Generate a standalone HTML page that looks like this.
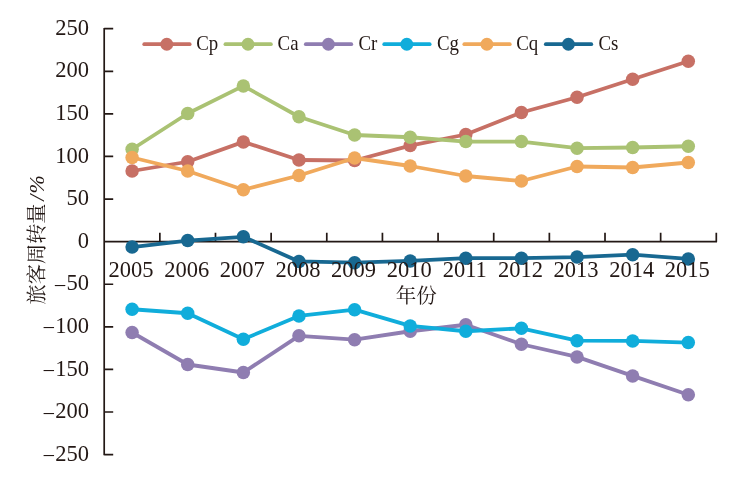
<!DOCTYPE html>
<html lang="zh"><head><meta charset="utf-8"><title>旅客周转量</title>
<style>html,body{margin:0;padding:0;background:#fff}svg{display:block}text{font-family:"Liberation Serif","Noto Serif CJK SC",serif;fill:#231815}</style></head>
<body>
<svg width="740" height="481" viewBox="0 0 740 481">
<rect width="740" height="481" fill="#fff"/>
<path d="M104.20 27.95V455.35M104.20 454.60H113.20M104.20 412.01H113.20M104.20 369.42H113.20M104.20 326.83H113.20M104.20 284.24H113.20M104.20 199.06H113.20M104.20 156.47H113.20M104.20 113.88H113.20M104.20 71.29H113.20M104.20 28.70H113.20M104.20 241.65H717.05M159.85 241.65V232.65M215.49 241.65V232.65M271.14 241.65V232.65M326.78 241.65V232.65M382.43 241.65V232.65M438.07 241.65V232.65M493.72 241.65V232.65M549.36 241.65V232.65M605.01 241.65V232.65M660.65 241.65V232.65M716.30 241.65V232.65" fill="none" stroke="#231815" stroke-width="1.7"/>
<g font-size="22.5" text-anchor="end">
<text x="88.9" y="460.80"><tspan dy="2.4">−</tspan><tspan dy="-2.4">250</tspan></text>
<text x="88.9" y="418.21"><tspan dy="2.4">−</tspan><tspan dy="-2.4">200</tspan></text>
<text x="88.9" y="375.62"><tspan dy="2.4">−</tspan><tspan dy="-2.4">150</tspan></text>
<text x="88.9" y="333.03"><tspan dy="2.4">−</tspan><tspan dy="-2.4">100</tspan></text>
<text x="88.9" y="290.44"><tspan dy="2.4">−</tspan><tspan dy="-2.4">50</tspan></text>
<text x="88.9" y="247.85">0</text>
<text x="88.9" y="205.26">50</text>
<text x="88.9" y="162.67">100</text>
<text x="88.9" y="120.08">150</text>
<text x="88.9" y="77.49">200</text>
<text x="88.9" y="34.90">250</text>
</g>
<g fill="#c77065" stroke="none"><polyline points="132.10,171.00 187.70,161.75 243.35,141.90 298.95,160.00 354.60,160.50 410.20,145.60 465.80,134.50 521.40,112.50 577.05,97.25 632.65,79.25 688.30,61.25" fill="none" stroke="#c77065" stroke-width="3.8" stroke-linejoin="round"/>
<circle cx="132.10" cy="171.00" r="6.75"/><circle cx="187.70" cy="161.75" r="6.75"/><circle cx="243.35" cy="141.90" r="6.75"/><circle cx="298.95" cy="160.00" r="6.75"/><circle cx="354.60" cy="160.50" r="6.75"/><circle cx="410.20" cy="145.60" r="6.75"/><circle cx="465.80" cy="134.50" r="6.75"/><circle cx="521.40" cy="112.50" r="6.75"/><circle cx="577.05" cy="97.25" r="6.75"/><circle cx="632.65" cy="79.25" r="6.75"/><circle cx="688.30" cy="61.25" r="6.75"/>
</g>
<g fill="#aac273" stroke="none"><polyline points="132.10,149.25 187.70,113.50 243.35,85.90 298.95,116.75 354.60,135.00 410.20,137.25 465.80,141.60 521.40,141.60 577.05,148.20 632.65,147.50 688.30,146.25" fill="none" stroke="#aac273" stroke-width="3.8" stroke-linejoin="round"/>
<circle cx="132.10" cy="149.25" r="6.75"/><circle cx="187.70" cy="113.50" r="6.75"/><circle cx="243.35" cy="85.90" r="6.75"/><circle cx="298.95" cy="116.75" r="6.75"/><circle cx="354.60" cy="135.00" r="6.75"/><circle cx="410.20" cy="137.25" r="6.75"/><circle cx="465.80" cy="141.60" r="6.75"/><circle cx="521.40" cy="141.60" r="6.75"/><circle cx="577.05" cy="148.20" r="6.75"/><circle cx="632.65" cy="147.50" r="6.75"/><circle cx="688.30" cy="146.25" r="6.75"/>
</g>
<g fill="#8f7db1" stroke="none"><polyline points="132.10,332.50 187.70,364.50 243.35,372.50 298.95,335.80 354.60,339.65 410.20,331.25 465.80,324.75 521.40,344.25 577.05,356.90 632.65,375.90 688.30,394.70" fill="none" stroke="#8f7db1" stroke-width="3.8" stroke-linejoin="round"/>
<circle cx="132.10" cy="332.50" r="6.75"/><circle cx="187.70" cy="364.50" r="6.75"/><circle cx="243.35" cy="372.50" r="6.75"/><circle cx="298.95" cy="335.80" r="6.75"/><circle cx="354.60" cy="339.65" r="6.75"/><circle cx="410.20" cy="331.25" r="6.75"/><circle cx="465.80" cy="324.75" r="6.75"/><circle cx="521.40" cy="344.25" r="6.75"/><circle cx="577.05" cy="356.90" r="6.75"/><circle cx="632.65" cy="375.90" r="6.75"/><circle cx="688.30" cy="394.70" r="6.75"/>
</g>
<g fill="#10addb" stroke="none"><polyline points="132.10,309.25 187.70,313.25 243.35,339.25 298.95,315.90 354.60,309.65 410.20,325.90 465.80,331.25 521.40,328.30 577.05,340.65 632.65,340.90 688.30,342.60" fill="none" stroke="#10addb" stroke-width="3.8" stroke-linejoin="round"/>
<circle cx="132.10" cy="309.25" r="6.75"/><circle cx="187.70" cy="313.25" r="6.75"/><circle cx="243.35" cy="339.25" r="6.75"/><circle cx="298.95" cy="315.90" r="6.75"/><circle cx="354.60" cy="309.65" r="6.75"/><circle cx="410.20" cy="325.90" r="6.75"/><circle cx="465.80" cy="331.25" r="6.75"/><circle cx="521.40" cy="328.30" r="6.75"/><circle cx="577.05" cy="340.65" r="6.75"/><circle cx="632.65" cy="340.90" r="6.75"/><circle cx="688.30" cy="342.60" r="6.75"/>
</g>
<g fill="#f0a95c" stroke="none"><polyline points="132.10,157.50 187.70,171.00 243.35,189.75 298.95,175.50 354.60,158.00 410.20,166.00 465.80,176.00 521.40,181.00 577.05,166.50 632.65,167.50 688.30,162.50" fill="none" stroke="#f0a95c" stroke-width="3.8" stroke-linejoin="round"/>
<circle cx="132.10" cy="157.50" r="6.75"/><circle cx="187.70" cy="171.00" r="6.75"/><circle cx="243.35" cy="189.75" r="6.75"/><circle cx="298.95" cy="175.50" r="6.75"/><circle cx="354.60" cy="158.00" r="6.75"/><circle cx="410.20" cy="166.00" r="6.75"/><circle cx="465.80" cy="176.00" r="6.75"/><circle cx="521.40" cy="181.00" r="6.75"/><circle cx="577.05" cy="166.50" r="6.75"/><circle cx="632.65" cy="167.50" r="6.75"/><circle cx="688.30" cy="162.50" r="6.75"/>
</g>
<g fill="#186891" stroke="none"><polyline points="132.10,247.10 187.70,240.60 243.35,236.80 298.95,261.45 354.60,262.70 410.20,260.95 465.80,258.20 521.40,258.20 577.05,257.10 632.65,254.70 688.30,258.95" fill="none" stroke="#186891" stroke-width="3.8" stroke-linejoin="round"/>
<circle cx="132.10" cy="247.10" r="6.75"/><circle cx="187.70" cy="240.60" r="6.75"/><circle cx="243.35" cy="236.80" r="6.75"/><circle cx="298.95" cy="261.45" r="6.75"/><circle cx="354.60" cy="262.70" r="6.75"/><circle cx="410.20" cy="260.95" r="6.75"/><circle cx="465.80" cy="258.20" r="6.75"/><circle cx="521.40" cy="258.20" r="6.75"/><circle cx="577.05" cy="257.10" r="6.75"/><circle cx="632.65" cy="254.70" r="6.75"/><circle cx="688.30" cy="258.95" r="6.75"/>
</g>
<g font-size="22.5" text-anchor="middle">
<text x="131.10" y="276.5">2005</text>
<text x="186.70" y="276.5">2006</text>
<text x="242.35" y="276.5">2007</text>
<text x="297.95" y="276.5">2008</text>
<text x="353.60" y="276.5">2009</text>
<text x="409.20" y="276.5">2010</text>
<text x="464.80" y="276.5">2011</text>
<text x="520.40" y="276.5">2012</text>
<text x="576.05" y="276.5">2013</text>
<text x="631.65" y="276.5">2014</text>
<text x="687.30" y="276.5">2015</text>
</g>
<text x="416.2" y="303.2" font-size="20.5" text-anchor="middle">年份</text>
<text transform="translate(44.3 304.4) rotate(-90)" font-size="20.2">旅客周转量<tspan font-size="22" font-style="italic" dx="2.6">/</tspan><tspan font-size="22" font-style="italic" dx="1.2">%</tspan></text>
<path d="M144.20 44.2H189.70" stroke="#c77065" stroke-width="3.7" stroke-linecap="round" fill="none"/><circle cx="166.80" cy="44.2" r="6.45" fill="#c77065"/>
<text transform="translate(196.20 50.4) scale(0.92 1)" font-size="20.5">Cp</text>
<path d="M225.40 44.2H270.90" stroke="#aac273" stroke-width="3.7" stroke-linecap="round" fill="none"/><circle cx="248.00" cy="44.2" r="6.45" fill="#aac273"/>
<text transform="translate(277.60 50.4) scale(0.92 1)" font-size="20.5">Ca</text>
<path d="M305.80 44.2H351.30" stroke="#8f7db1" stroke-width="3.7" stroke-linecap="round" fill="none"/><circle cx="328.40" cy="44.2" r="6.45" fill="#8f7db1"/>
<text transform="translate(358.40 50.4) scale(0.92 1)" font-size="20.5">Cr</text>
<path d="M384.20 44.2H429.70" stroke="#10addb" stroke-width="3.7" stroke-linecap="round" fill="none"/><circle cx="406.80" cy="44.2" r="6.45" fill="#10addb"/>
<text transform="translate(436.90 50.4) scale(0.92 1)" font-size="20.5">Cg</text>
<path d="M464.30 44.2H509.80" stroke="#f0a95c" stroke-width="3.7" stroke-linecap="round" fill="none"/><circle cx="486.90" cy="44.2" r="6.45" fill="#f0a95c"/>
<text transform="translate(516.30 50.4) scale(0.92 1)" font-size="20.5">Cq</text>
<path d="M545.80 44.2H591.30" stroke="#186891" stroke-width="3.7" stroke-linecap="round" fill="none"/><circle cx="568.40" cy="44.2" r="6.45" fill="#186891"/>
<text transform="translate(598.40 50.4) scale(0.92 1)" font-size="20.5">Cs</text>
</svg>
</body></html>
